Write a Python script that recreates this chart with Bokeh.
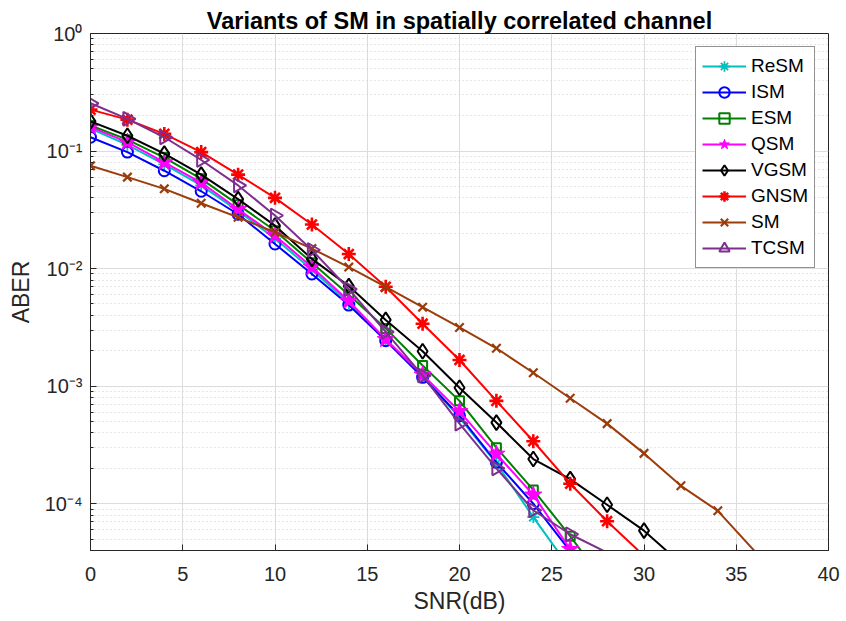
import numpy as np
from bokeh.plotting import figure
from bokeh.models import (FixedTicker, CustomJSTickFormatter, Legend, LegendItem, Range1d)
from bokeh.embed import file_html
from bokeh.resources import INLINE

# ---------------- data ----------------
snr = [0, 2, 4, 6, 8, 10, 12, 14, 16, 18, 20, 22, 24, 26, 28, 30, 32, 34, 36]

resm = [0.155, 0.113, 0.077, 0.051, 0.031, 0.0180, 0.0098, 0.0051, 0.0025, 0.00122,
        5.4e-4, 2.2e-4, 7.7e-5, 2.8e-5]
ism = [0.131, 0.098, 0.068, 0.0455, 0.029, 0.0162, 0.0090, 0.0049, 0.00244, 0.00119,
       5.6e-4, 2.25e-4, 1.0e-4, 3.95e-5]
esm = [0.165, 0.125, 0.088, 0.058, 0.035, 0.0210, 0.0112, 0.0060, 0.0031, 0.0015,
       7.5e-4, 3.0e-4, 1.31e-4, 5.3e-5, 2.0e-5]
qsm = [0.160, 0.119, 0.080, 0.054, 0.032, 0.0191, 0.0103, 0.0053, 0.0025, 0.00125,
       6.1e-4, 2.65e-4, 1.19e-4, 4.1e-5]
vgsm = [0.179, 0.135, 0.095, 0.063, 0.039, 0.0232, 0.0121, 0.0071, 0.00366, 0.00198,
        9.7e-4, 4.9e-4, 2.4e-4, 1.62e-4, 9.8e-5, 5.9e-5, 3.1e-5]
gnsm = [0.225, 0.185, 0.140, 0.098, 0.063, 0.040, 0.0237, 0.0133, 0.0070, 0.0034,
        0.00167, 7.5e-4, 3.4e-4, 1.48e-4, 7.1e-5, 3.6e-5]
sm = [0.075, 0.060, 0.0477, 0.036, 0.0273, 0.0204, 0.0148, 0.0103, 0.0070, 0.0047,
      0.00316, 0.0021, 0.0013, 7.9e-4, 4.8e-4, 2.68e-4, 1.42e-4, 8.7e-5, 3.95e-5]
tcsm = [0.255, 0.188, 0.131, 0.084, 0.051, 0.0283, 0.0144, 0.0067, 0.0029, 0.00123,
        4.8e-4, 2.0e-4, 8.8e-5, 5.5e-5, 3.84e-5]

names = ["ReSM", "ISM", "ESM", "QSM", "VGSM", "GNSM", "SM", "TCSM"]
x_ticks = [0, 5, 10, 15, 20, 25, 30, 35, 40]
y_ticks = [1e-4, 1e-3, 1e-2, 1e-1, 1e0]
title_text = "Variants of SM in spatially correlated channel"
x_label = "SNR(dB)"
y_label = "ABER"

Y_MIN, Y_MAX = 4e-5, 1.0
FONT = "Liberation Sans"
AX_COL = "#262626"

p = figure(width=846, height=621, y_axis_type="log",
           x_range=Range1d(0, 40), y_range=Range1d(Y_MIN, Y_MAX),
           output_backend="svg", toolbar_location=None,
           min_border_left=90, min_border_right=18,
           min_border_top=33, min_border_bottom=71,
           title=title_text)
p.background_fill_color = "white"
p.border_fill_color = "white"
p.outline_line_color = AX_COL
p.outline_line_width = 1

p.title.align = "center"
p.title.text_font = FONT
p.title.text_font_size = "23.5px"
p.title.text_font_style = "bold"
p.title.text_color = "black"
p.title.standoff = 0
p.title.offset = 0

minor = [m * 10.0 ** k for k in range(-5, 0) for m in range(2, 10)]
sup_code = """
const e = Math.round(Math.log10(tick));
const sup = {'-':'\u207b','0':'\u2070','1':'\u00b9','2':'\u00b2','3':'\u00b3',
             '4':'\u2074','5':'\u2075','6':'\u2076','7':'\u2077','8':'\u2078','9':'\u2079'};
return '10' + String(e).split('').map(c => sup[c]).join('');
"""

xa = p.xaxis[0]
xa.ticker = FixedTicker(ticks=x_ticks)
ya = p.yaxis[0]
ya.ticker = FixedTicker(ticks=y_ticks, minor_ticks=minor)
ya.formatter = CustomJSTickFormatter(code=sup_code)

for ax in (xa, ya):
    ax.axis_line_color = AX_COL
    ax.major_tick_line_color = AX_COL
    ax.minor_tick_line_color = AX_COL
    ax.major_tick_in = 6
    ax.major_tick_out = 0
    ax.minor_tick_in = 3
    ax.minor_tick_out = 0
    ax.major_label_text_font = FONT
    ax.major_label_text_font_size = "20px"
    ax.major_label_text_color = AX_COL
    ax.axis_label_text_font = FONT
    ax.axis_label_text_font_size = "23px"
    ax.axis_label_text_font_style = "normal"
    ax.axis_label_text_color = AX_COL
xa.minor_tick_line_color = None
xa.axis_label = x_label
ya.axis_label = y_label
xa.major_label_standoff = 16
ya.major_label_standoff = 8
xa.axis_label_standoff = 4
ya.axis_label_standoff = 8

# grids
p.xgrid.grid_line_color = "#dcdcdc"
p.ygrid.grid_line_color = "#dcdcdc"
p.ygrid.minor_grid_line_color = "#cccccc"
p.ygrid.minor_grid_line_dash = "1 3"

styles = [
    dict(color="#00BFBF", marker="asterisk", size=12, lw=1.8, fill=None),
    dict(color="#0000FF", marker="circle", size=11, lw=2, fill=None),
    dict(color="#008000", marker="square", size=9, lw=2, fill=None),
    dict(color="#FF00FF", marker="star", size=18, lw=1, fill="#FF00FF"),
    dict(color="#000000", marker="diamond", size=15, lw=2, fill=None),
    dict(color="#FF0000", marker="asterisk", size=14, lw=2.6, fill=None),
    dict(color="#9C3C0A", marker="x", size=12, lw=2.2, fill=None),
    dict(color="#7E2F8E", marker="triangle", size=14, lw=2, fill=None, angle=-np.pi / 2),
]
series = [resm, ism, esm, qsm, vgsm, gnsm, sm, tcsm]

items = []
for name, vals, st in zip(names, series, styles):
    xs = snr[:len(vals)]
    lr = p.line(xs, vals, line_color=st["color"], line_width=2)
    # markers only inside the axis range (the reference clips them)
    mx = [x for x, v in zip(xs, vals) if v >= Y_MIN]
    my = [v for v in vals if v >= Y_MIN]
    kw = dict(marker=st["marker"], size=st["size"], line_color=st["color"],
              line_width=st["lw"], fill_color=st["fill"])
    if "angle" in st:
        kw["angle"] = st["angle"]
    sr = p.scatter(mx, my, **kw)
    items.append(LegendItem(label=name, renderers=[lr, sr]))

legend = Legend(items=items, location="top_right", margin=13, padding=6, spacing=0,
                glyph_width=44, glyph_height=26, label_height=26, label_standoff=5,
                label_width=50,
                label_text_font=FONT, label_text_font_size="19px", label_text_color="black",
                border_line_color=AX_COL, border_line_width=1,
                background_fill_color="white", background_fill_alpha=1.0)
p.add_layout(legend, "center")

open("out.html", "w").write(file_html(p, INLINE))
